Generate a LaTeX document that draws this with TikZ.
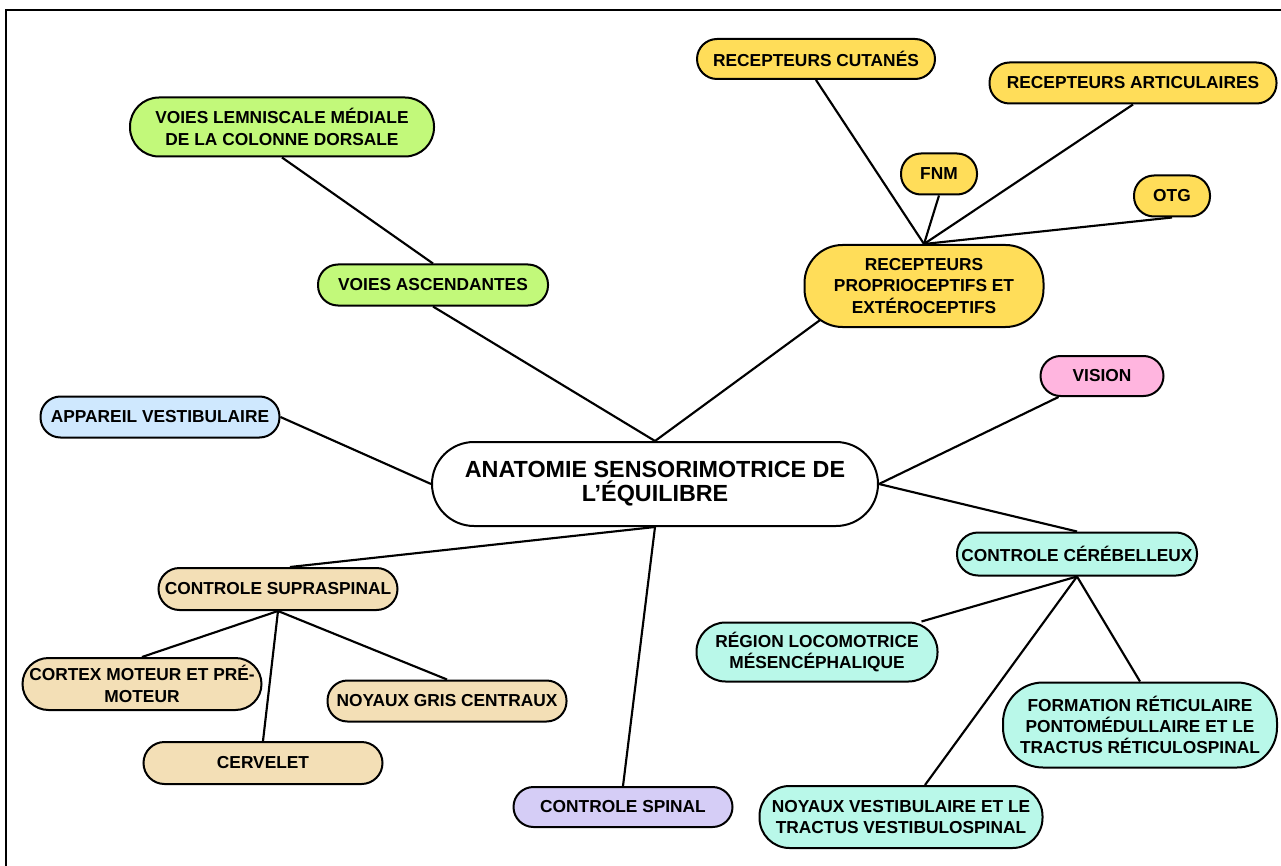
\documentclass[tikz,border=0pt]{standalone}
\usepackage{fontspec}
\setmainfont{Liberation Sans}
\usetikzlibrary{calc}
\pgfdeclarelayer{background}
\pgfsetlayers{background,main}
\definecolor{cgreen}{HTML}{C2F97A}
\definecolor{cyellow}{HTML}{FFDD59}
\definecolor{cpink}{HTML}{FFB5DF}
\definecolor{cblue}{HTML}{CFE8FE}
\definecolor{ctan}{HTML}{F3DFB6}
\definecolor{cteal}{HTML}{B9F8E9}
\definecolor{clav}{HTML}{D5CDF6}
\tikzset{
  box/.style={draw=black, line width=1.5pt, align=center, inner sep=1pt,
    font=\fontsize{13}{16}\selectfont\bfseries},
  sz/.style n args={3}{minimum width=#1*0.75pt, minimum height=#2*0.75pt, rounded corners=#3*0.75pt},
  link/.style={draw=black, line width=1.6pt}
}
\begin{document}
\begin{tikzpicture}[x=0.75pt,y=-0.75pt]
\useasboundingbox (0,0) rectangle (1281,866);
\draw[line width=1.5pt] (6,900) -- (6,10) -- (1300,10);

\node[box, fill=white, sz={446}{84}{42}, font=\fontsize{17.5}{18}\selectfont\bfseries] (c) at (655,484) {ANATOMIE SENSORIMOTRICE DE\\L’ÉQUILIBRE};

\node[box, fill=cgreen, sz={304}{59}{29}] (vl) at (282,127) {VOIES LEMNISCALE MÉDIALE\\DE LA COLONNE DORSALE};
\node[box, fill=cgreen, sz={230}{41}{20}] (va) at (433,285) {VOIES ASCENDANTES};

\node[box, fill=cyellow, sz={238}{40}{20}] (cut) at (816,59) {RECEPTEURS CUTANÉS};
\node[box, fill=cyellow, sz={287}{41}{20}] (art) at (1133,83) {RECEPTEURS ARTICULAIRES};
\node[box, fill=cyellow, sz={76}{41}{20}] (fnm) at (939,174) {FNM};
\node[box, fill=cyellow, sz={76}{41}{20}] (otg) at (1172,196) {OTG};
\node[box, fill=cyellow, sz={239}{82}{38}] (prp) at (924,286) {RECEPTEURS\\PROPRIOCEPTIFS ET\\EXTÉROCEPTIFS};

\node[box, fill=cpink, sz={123}{40}{20}] (vis) at (1102,376) {VISION};
\node[box, fill=cblue, sz={239}{41}{20}] (app) at (160,417) {APPAREIL VESTIBULAIRE};

\node[box, fill=cteal, sz={240}{43}{21}] (ceb) at (1077,554) {CONTROLE CÉRÉBELLEUX};
\node[box, fill=cteal, sz={241}{59}{29}] (reg) at (817,652) {RÉGION LOCOMOTRICE\\MÉSENCÉPHALIQUE};
\node[box, fill=cteal, sz={274}{85}{40}] (frm) at (1140,725) {FORMATION RÉTICULAIRE\\PONTOMÉDULLAIRE ET LE\\TRACTUS RÉTICULOSPINAL};
\node[box, fill=cteal, sz={283}{62}{30}] (nvs) at (901,817) {NOYAUX VESTIBULAIRE ET LE\\TRACTUS VESTIBULOSPINAL};

\node[box, fill=ctan, sz={239}{42}{21}] (sup) at (278,589) {CONTROLE SUPRASPINAL};
\node[box, fill=ctan, sz={239}{52}{26}] (ctx) at (142,684) {CORTEX MOTEUR ET PRÉ-\\MOTEUR};
\node[box, fill=ctan, sz={239}{41}{20}] (ngc) at (447,701) {NOYAUX GRIS CENTRAUX};
\node[box, fill=ctan, sz={239}{42}{21}] (cer) at (263,763) {CERVELET};

\node[box, fill=clav, sz={219}{40}{20}] (spn) at (623,807) {CONTROLE SPINAL};

\begin{pgfonlayer}{background}
\draw[link] (c.north) -- (va.south);
\draw[link] (va.north) -- (vl.south);
\draw[link] (c.north) -- ($(prp.south west)+(18,-9)$);
\draw[link] (prp.north) -- (cut.south);
\draw[link] (prp.north) -- (fnm.south);
\draw[link] (prp.north) -- (art.south);
\draw[link] (prp.north) -- (otg.south);
\draw[link] (c.west) -- (app.east);
\draw[link] (c.east) -- ($(vis.south west)+(19,0)$);
\draw[link] (c.east) -- (ceb.north);
\draw[link] (c.south) -- ($(sup.north)+(12,0)$);
\draw[link] (c.south) -- (spn.north);
\draw[link] (sup.south) -- (ctx.north);
\draw[link] (sup.south) -- (cer.north);
\draw[link] (sup.south) -- (ngc.north);
\draw[link] (ceb.south) -- ($(reg.north east)+(-17,0)$);
\draw[link] (ceb.south) -- ($(nvs.north)+(24,0)$);
\draw[link] (ceb.south) -- (frm.north);
\end{pgfonlayer}
\end{tikzpicture}
\end{document}
